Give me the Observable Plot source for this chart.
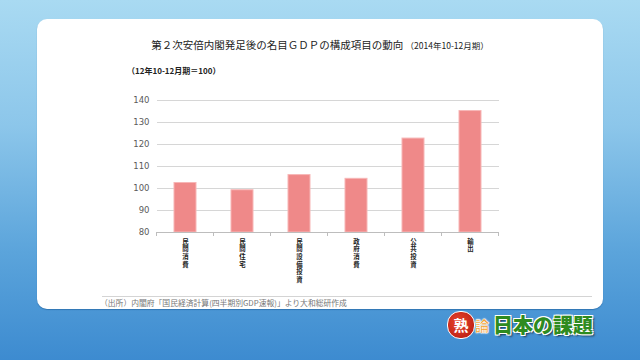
<!DOCTYPE html>
<html><head><meta charset="utf-8">
<script src="https://cdn.jsdelivr.net/npm/d3@7"></script>
<script src="https://cdn.jsdelivr.net/npm/@observablehq/plot@0.6"></script>
<style>
html,body{margin:0;padding:0;width:640px;height:360px;overflow:hidden;font-family:"Noto Sans CJK JP","Noto Sans",sans-serif;}
#bg{position:absolute;left:0;top:0;width:640px;height:360px;background:linear-gradient(to bottom,#a9daf2 0%,#8cc6ea 35%,#5ba4db 70%,#3d8bd0 100%);}
#card{position:absolute;left:37px;top:19px;width:566px;height:290px;background:#fff;border-radius:10px;box-shadow:0 1px 1px rgba(0,60,120,0.35);}
#title{position:absolute;left:0;width:640px;top:37px;text-align:center;font-size:10.5px;color:#222;white-space:nowrap;}
#title small{font-size:8.5px;}
#sub{position:absolute;left:127px;top:65px;font-size:8px;font-weight:bold;color:#222;white-space:nowrap;}
#chart{position:absolute;left:0;top:0;}
#line{position:absolute;left:102px;top:296px;width:490px;height:1px;background:#d4d4d4;}
#src{position:absolute;left:100px;top:297px;font-size:7.8px;color:#777;white-space:nowrap;}
#logo{position:absolute;left:447px;top:310px;height:28px;white-space:nowrap;}
#logo .c{display:inline-block;width:26px;height:26px;border-radius:13px;background:radial-gradient(circle at 40% 40%,#e8452c,#b3170f);color:#fff;font-weight:bold;font-size:15px;line-height:26px;text-align:center;vertical-align:middle;border:1px solid #fff;}
#logo .r{color:#f29a1e;font-weight:bold;font-size:14px;vertical-align:middle;-webkit-text-stroke:0.4px #fff;text-shadow:0 0 2px #fff,0 0 2px #fff;}
#logo .g{color:#2e8b1f;font-weight:900;font-size:20px;vertical-align:middle;margin-left:4px;text-shadow:-1px -1px 0 #fff,1px -1px 0 #fff,-1px 1px 0 #fff,1px 1px 0 #fff,2px 2px 2px rgba(0,0,0,0.6);}
</style></head>
<body>
<div id="bg"></div>
<div id="card"></div>
<div id="title">第２次安倍内閣発足後の名目ＧＤＰの構成項目の動向 <small>（2014年10-12月期）</small></div>
<div id="sub">（12年10-12月期＝100）</div>
<div id="chart"></div>
<div id="line"></div>
<div id="src">（出所）内閣府「国民経済計算(四半期別GDP速報)」より大和総研作成</div>
<div id="logo"><span class="c">熟</span><span class="r">論</span><span class="g">日本の課題</span></div>
<script>
const categories = ["民間消費","民間住宅","民間設備投資","政府消費","公共投資","輸出"];
const values = [102.5, 99.2, 106.1, 104.4, 122.7, 135.2];
const yTicks = [80, 90, 100, 110, 120, 130, 140];
const baseValue = 80;

const data = categories.map((c, i) => ({cat: c, value: values[i]}));

const plot = Plot.plot({
  width: 640, height: 300,
  marginLeft: 157, marginRight: 141, marginTop: 100, marginBottom: 68,
  style: {background: "transparent", fontFamily: "'Noto Sans CJK JP', sans-serif"},
  x: {domain: categories, paddingInner: 0.614, paddingOuter: 0.307, axis: null},
  y: {domain: [yTicks[0], yTicks[yTicks.length - 1]], axis: null},
  marks: [
    Plot.gridY(yTicks.slice(1), {stroke: "#d6d6d6", strokeOpacity: 1}),
    Plot.axisY(yTicks, {tickSize: 0, tickPadding: 8, fontSize: 8.5, color: "#5a5a5a", label: null, fontFamily: "'DejaVu Sans', sans-serif"}),
    Plot.barY(data, {x: "cat", y1: baseValue, y2: "value", fill: "#ef8989", stroke: "#f7b6b6", strokeWidth: 1}),
    Plot.ruleY([baseValue], {stroke: "#bdbdbd"}),
    Plot.text(data, {x: "cat", y: baseValue, text: d => d.cat.split("").join("\n"), dy: 6, lineAnchor: "top", lineHeight: 1.18, fontSize: 6.4, fontWeight: "bold", fill: "#222"})
  ]
});
document.getElementById("chart").appendChild(plot);

// category boundary tick marks derived from the band scale
const xs = plot.scale("x"), ys = plot.scale("y");
const y0 = ys.apply(baseValue);
const svg = d3.select(plot);
const bounds = categories.map(c => xs.apply(c) - (xs.step - xs.bandwidth) / 2);
bounds.push(xs.apply(categories[categories.length - 1]) + xs.bandwidth + (xs.step - xs.bandwidth) / 2);
svg.append("g").selectAll("line").data(bounds).join("line")
  .attr("x1", d => d).attr("x2", d => d).attr("y1", y0).attr("y2", y0 + 4)
  .attr("stroke", "#bdbdbd");
</script>
</body></html>
